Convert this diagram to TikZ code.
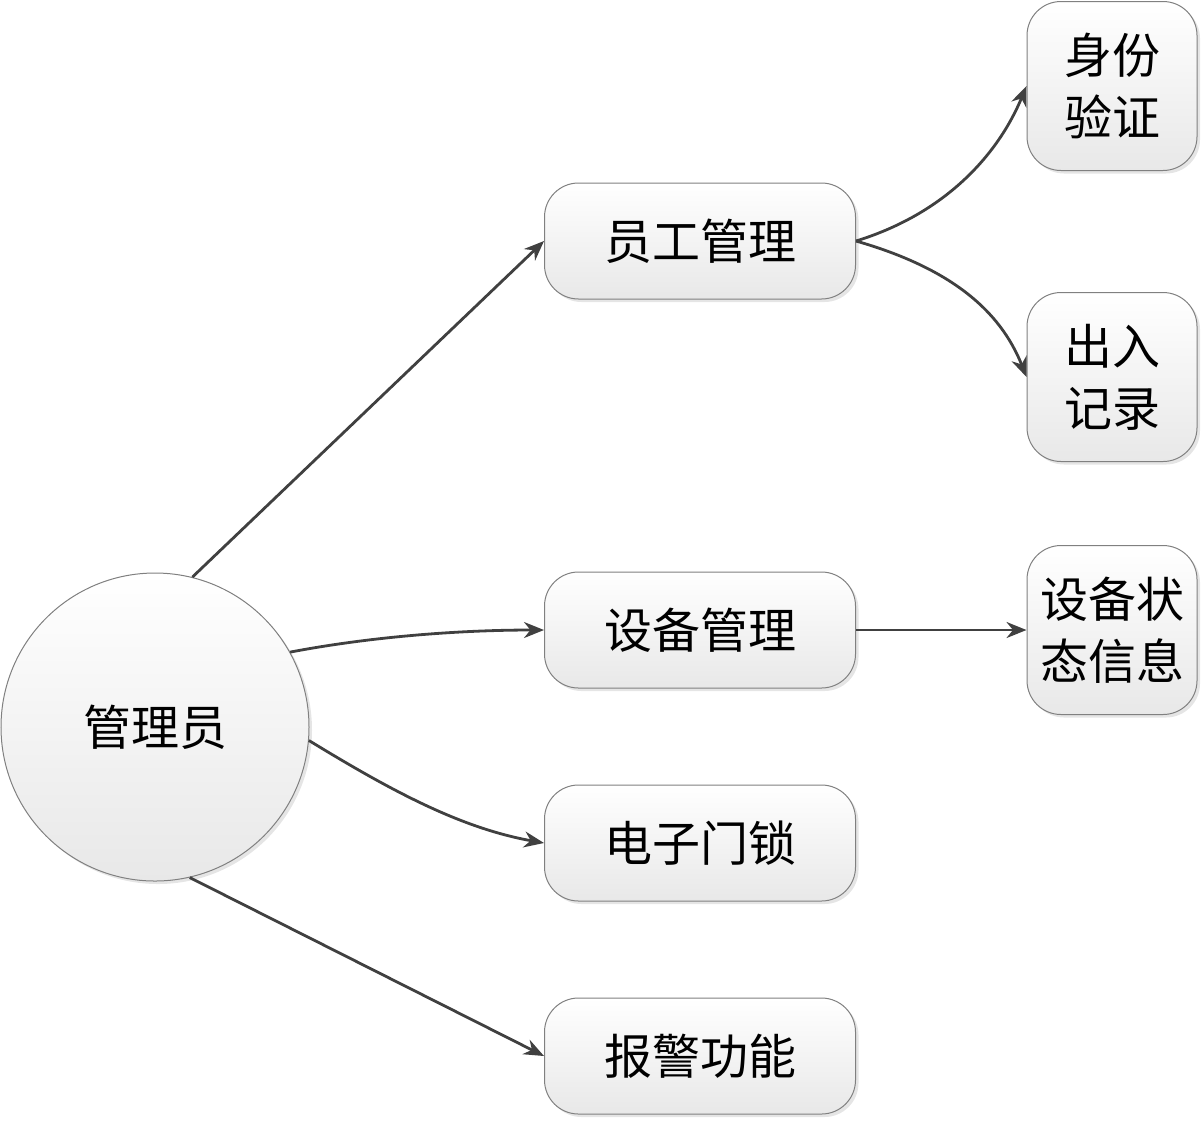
\documentclass[tikz,border=0pt]{standalone}
\usepackage{fontspec}
\setmainfont{Noto Sans CJK SC}
\usetikzlibrary{shadows,arrows.meta}
\begin{document}
\begin{tikzpicture}[x=0.5pt,y=-0.5pt,
  base/.style={draw=black!50, line width=0.5pt, top color=white, bottom color=black!9,
    drop shadow={shadow xshift=1.5pt, shadow yshift=-1.5pt, opacity=0.25, fill=black!40},
    font=\fontsize{24pt}{31pt}\selectfont, align=center, inner sep=0pt},
  box/.style={base, rounded corners=17pt, minimum width=155.5pt, minimum height=58pt},
  tall/.style={base, rounded corners=17pt, minimum width=85pt, minimum height=84.5pt},
  circ/.style={base, circle, minimum size=154pt},
  conn/.style={draw=black!75, line width=1.4pt, -{Stealth[length=10pt,width=8pt]}}]
\useasboundingbox (0,0) rectangle (1202,1120);
\node[circ] (adm) at (155,727) {管理员};
\node[box] (emp) at (700,241) {员工管理};
\node[box] (dev) at (700,630) {设备管理};
\node[box] (lock) at (700,843) {电子门锁};
\node[box] (alarm) at (700,1056) {报警功能};
\node[tall] (id) at (1112,86) {身份\\验证};
\node[tall] (rec) at (1112,377) {出入\\记录};
\node[tall] (stat) at (1112,630) {设备状\\态信息};
\draw[conn] (adm.76) -- (emp.west);
\draw[conn] (adm.29) .. controls (380,635) and (470,630) .. (dev.west);
\draw[conn] (adm.-5) .. controls (390,790) and (460,828) .. (lock.west);
\draw[conn] (adm.-77) -- (alarm.west);
\draw[conn] (emp.east) .. controls (950,212) and (1000,150) .. (id.west);
\draw[conn] (emp.east) .. controls (950,268) and (1000,310) .. (rec.west);
\draw[conn] (dev.east) -- (stat.west);
\end{tikzpicture}
\end{document}
